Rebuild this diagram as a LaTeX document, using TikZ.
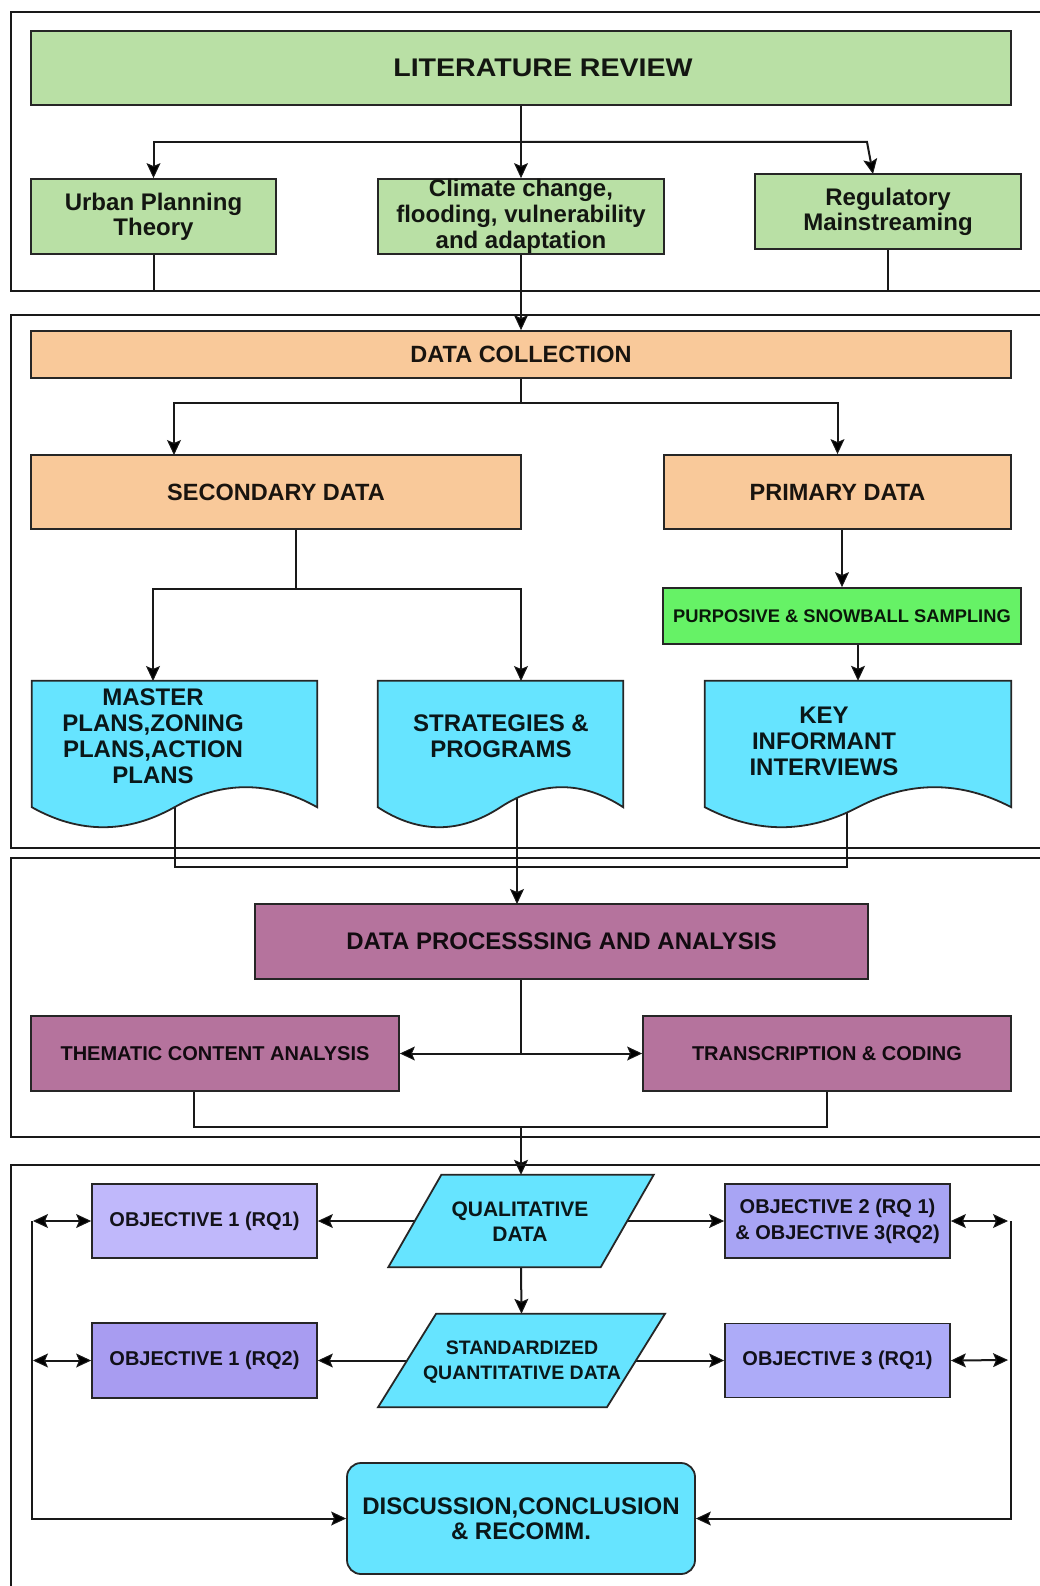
\documentclass[tikz,border=0pt]{standalone}
\usepackage{fontspec}
\setmainfont{Liberation Sans}
\newfontfamily\widesans{Liberation Sans}[FakeStretch=1.12]
\usetikzlibrary{arrows.meta,calc}

\pgfdeclarelayer{back}
\pgfdeclarelayer{bg}
\pgfsetlayers{back,bg,main}

\definecolor{litgreen}{HTML}{B9E0A5}
\definecolor{peach}{HTML}{F9C99A}
\definecolor{limegreen}{HTML}{66F266}
\definecolor{docblue}{HTML}{66E4FF}
\definecolor{mauve}{HTML}{B5739D}
\definecolor{lavA}{HTML}{C0B8FB}
\definecolor{lavB}{HTML}{A8A4F4}
\definecolor{lavC}{HTML}{A89CF1}
\definecolor{lavD}{HTML}{ADABF8}
\definecolor{edge}{HTML}{262626}

\tikzset{
  base/.style={draw=edge, line width=1.8pt, inner sep=0pt, align=center},
  box/.style={base, fill=#1, text=#1!10!black},
  fs/.style 2 args={font=\bfseries\fontsize{#1}{#2}\selectfont},
  conn/.style={draw=black!90, line width=2pt},
  arr/.style={conn, -{Stealth[length=15pt, width=14pt, inset=3pt, fill=black, line width=1pt]}},
  dbl/.style={conn, {Stealth[length=15pt, width=14pt, inset=3pt, fill=black, line width=1pt]}-{Stealth[length=15pt, width=14pt, inset=3pt, fill=black, line width=1pt]}},
  frame/.style={draw=black!90, line width=2pt},
  docarea/.style={inner sep=0pt, minimum height=126pt},
  docfill/.style={draw=edge, line width=1.8pt, fill=docblue},
  doctext/.style={align=center, inner sep=0pt, text=docblue!10!black, fs={24}{26}},
  slant/.style={inner sep=0pt},
  slantfill/.style={draw=edge, line width=1.8pt, fill=docblue},
  slanttext/.style={align=center, inner sep=0pt, text=docblue!10!black},
}

% document symbol: straight top and sides, wavy bottom edge
\newcommand\docshape[1]{%
  \path[docfill] (#1.north west) -- (#1.north east) -- (#1.south east)
    .. controls ($(#1.south east)!1/6!(#1.south west)+(0,-26.7)$) and ($(#1.south east)!1/3!(#1.south west)+(0,-26.7)$) .. (#1.south)
    .. controls ($(#1.south)!1/3!(#1.south west)+(0,26.7)$) and ($(#1.south)!2/3!(#1.south west)+(0,26.7)$) .. (#1.south west) -- cycle;}

% data symbol: parallelogram leaning right
\newcommand\slantbox[2]{%
  \path[slantfill] ($(#1.north west)+(#2/2,0)$) -- ($(#1.north east)+(#2/2,0)$)
    -- ($(#1.south east)-(#2/2,0)$) -- ($(#1.south west)-(#2/2,0)$) -- cycle;}

\begin{document}
\begin{tikzpicture}[x=1pt,y=-1pt]
\useasboundingbox (0,0) rectangle (1040,1586);
\begin{pgfonlayer}{back}
  \fill[white] (0,0) rectangle (1040,1586);
\end{pgfonlayer}

% ---- section frames ----
\draw[frame] (1040,12) -- (11,12) -- (11,291) -- (1040,291);
\draw[frame] (1040,315) -- (11,315) -- (11,848) -- (1040,848);
\draw[frame] (1040,858) -- (11,858) -- (11,1137) -- (1040,1137);
\draw[frame] (1040,1165) -- (11,1165) -- (11,1586);

% ---- literature review ----
\node[box=litgreen, minimum width=980pt, minimum height=74pt,
      font=\widesans\bfseries\fontsize{25.5}{30}\selectfont] (lit) at (521,68) {\hspace*{44pt}LITERATURE REVIEW};
\node[box=litgreen, minimum width=245pt, minimum height=75pt, fs={24}{25}] (urban) at (153.5,216.5) {Urban Planning\\Theory};
\node[box=litgreen, minimum width=286pt, minimum height=75pt, fs={24}{26}] (climate) at (521,216.5) {Climate change,\\flooding, vulnerability\\and adaptation};
\node[box=litgreen, minimum width=266pt, minimum height=75pt, fs={24}{25}] (reg) at (888,211.5) {Regulatory\\Mainstreaming};

% ---- data collection ----
\node[box=peach, minimum width=980pt, minimum height=47pt, fs={23.5}{28}] (collect) at (521,354.5) {DATA COLLECTION};
\node[box=peach, minimum width=490pt, minimum height=74pt, fs={23.5}{28}] (secondary) at (276,492) {SECONDARY DATA};
\node[box=peach, minimum width=347pt, minimum height=74pt, fs={23.5}{28}] (primary) at (837.5,492) {PRIMARY DATA};
\node[box=limegreen, minimum width=358pt, minimum height=56pt, fs={18.3}{22}] (sampling) at (842,616) {PURPOSIVE \& SNOWBALL SAMPLING};

\node[docarea, minimum width=285pt] (master) at (174.5,744) {};
\node[docarea, minimum width=245pt] (strategies) at (500.5,744) {};
\node[docarea, minimum width=306pt] (informants) at (858,744) {};
\docshape{master}
\docshape{strategies}
\docshape{informants}
\node[doctext] (mastertxt) at (153,736) {MASTER\\PLANS,ZONING\\PLANS,ACTION\\PLANS};
\node[doctext] (strattxt) at (501,736) {STRATEGIES \&\\PROGRAMS};
\node[doctext] (keytxt) at (824,741) {KEY\\INFORMANT\\INTERVIEWS};

% ---- processing and analysis ----
\node[box=mauve, minimum width=613pt, minimum height=75pt, fs={24}{28}] (process) at (561.5,941.5) {DATA PROCESSSING AND ANALYSIS};
\node[box=mauve, minimum width=368pt, minimum height=75pt, fs={20}{24}] (thematic) at (215,1053.5) {THEMATIC CONTENT ANALYSIS};
\node[box=mauve, minimum width=368pt, minimum height=75pt, fs={20}{24}] (coding) at (827,1053.5) {TRANSCRIPTION \& CODING};

% ---- results ----
\node[slant, minimum width=212pt, minimum height=92pt] (qual) at (521,1221) {};
\slantbox{qual}{53}
\node[slanttext, fs={21}{25}] (qualtxt) at (520,1222) {QUALITATIVE\\DATA};
\node[slant, minimum width=228.5pt, minimum height=93pt] (quant) at (521.5,1360.5) {};
\slantbox{quant}{58}
\node[slanttext, fs={19.5}{25}] (quanttxt) at (522,1362.5) {STANDARDIZED\\QUANTITATIVE DATA};

\node[box=lavA, minimum width=225pt, minimum height=74pt, fs={20}{26}] (obja) at (204.5,1221) {OBJECTIVE 1 (RQ1)};
\node[box=lavB, minimum width=225pt, minimum height=74pt, fs={20}{26}] (objb) at (837.5,1221) {OBJECTIVE 2 (RQ 1)\\\& OBJECTIVE 3(RQ2)};
\node[box=lavC, minimum width=225pt, minimum height=75pt, fs={20}{26}] (objc) at (204.5,1360.5) {OBJECTIVE 1 (RQ2)};
\node[box=lavD, minimum width=225pt, minimum height=74pt, fs={20}{26}] (objd) at (837.5,1360.5) {OBJECTIVE 3 (RQ1)};

\node[box=docblue, rounded corners=14pt, minimum width=348pt, minimum height=111pt, fs={24}{25}] (final) at (521,1518.5) {DISCUSSION,CONCLUSION\\\& RECOMM.};

% ---- junction points ----
\coordinate (litfork) at (521,142);
\coordinate (litright) at (867,142);
\coordinate (regtip) at (873,174);
\coordinate (f1bottom) at (0,291);
\coordinate (collectfork) at (521,403);
\coordinate (secin) at (174,455);
\coordinate (secout) at (296,529);
\coordinate (secfork) at (296,589);
\coordinate (masterin) at (153,681);
\coordinate (stratin) at (521,681);
\coordinate (keydrop) at (847,744);
\coordinate (docjoin) at (0,867);
\coordinate (processin) at (517,904);
\coordinate (processout) at (521,979);
\coordinate (analysisfork) at (521,1053.5);
\coordinate (themout) at (194,1091);
\coordinate (analysisjoin) at (0,1127);
\coordinate (lefta) at (33,1221);
\coordinate (leftc) at (33,1360.5);
\coordinate (leftrail) at (32,1221);
\coordinate (rightb) at (1008,1221);
\coordinate (rightd) at (1008,1360);
\coordinate (rightrail) at (1011,1221);

% ---- connectors ----
\begin{pgfonlayer}{bg}
  \draw[arr] (lit) -- (climate);
  \draw[arr] (litfork) -| (urban.north);
  \draw[arr] (litfork) -- (litright) -- (regtip);
  \draw[conn] (urban.south) -- (urban.south |- f1bottom);
  \draw[conn] (reg.south) -- (reg.south |- f1bottom);
  \draw[arr] (climate) -- (collect);

  \draw[arr] (collect.south) -- (collectfork) -| (secin);
  \draw[arr] (collectfork) -| (primary.north);
  \draw[conn] (secout) -- (secfork);
  \draw[arr] (secfork) -| (masterin);
  \draw[arr] (secfork) -| (stratin);
  \draw[arr] (primary.south -| sampling.north) -- (sampling.north);
  \draw[arr] (sampling.south -| informants.north) -- (informants.north);

  \draw[conn] (master.center) |- (keydrop |- docjoin) -- (keydrop);
  \draw[arr] (strategies.center -| processin) -- (processin);

  \draw[conn] (processout) -- (analysisfork);
  \draw[dbl] (thematic.east) -- (coding.west);
  \draw[conn] (themout) |- (coding.south |- analysisjoin) -- (coding.south);
  \draw[arr] (qual.north |- analysisjoin) -- (qual.north);

  \draw[arr] (qual.south) -- (quant.north);
  \draw[arr] (qual.center) -- (obja.east);
  \draw[arr] (qual.center) -- (objb.west);
  \draw[arr] (quant.center) -- (objc.east);
  \draw[arr] (quant.center) -- (objd.west);

  \draw[dbl] (lefta) -- (obja.west);
  \draw[dbl] (leftc) -- (objc.west);
  \draw[arr] (leftrail) |- (final.west);
  \draw[dbl] (objb.east) -- (rightb);
  \draw[dbl] (objd.east) -- (rightd);
  \draw[arr] (rightrail) |- (final.east);
\end{pgfonlayer}
\end{tikzpicture}
\end{document}
